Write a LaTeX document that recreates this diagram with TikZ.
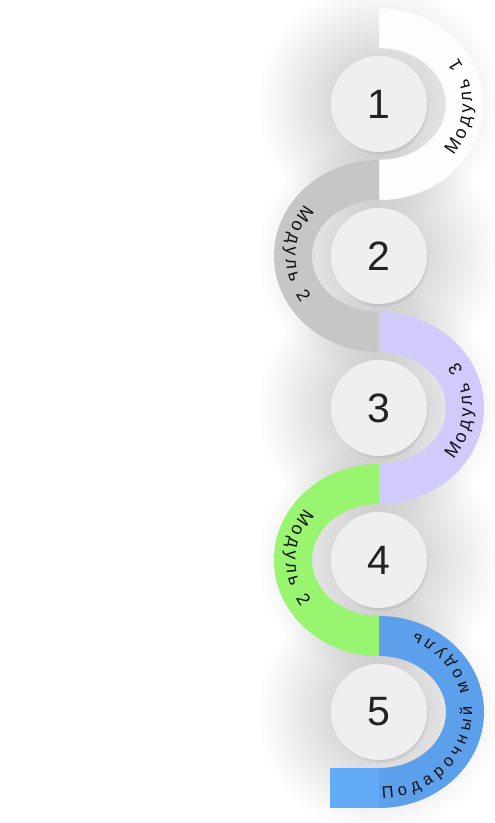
\documentclass[tikz,border=0pt]{standalone}
\usepackage{fontspec}
\setmainfont{Liberation Sans}
\newfontfamily\labfont{Liberation Sans}
\usetikzlibrary{calc,shadows,decorations.text,fadings}
\definecolor{ringgray}{HTML}{C6C6C6}
\definecolor{ringpurple}{HTML}{D1CBFB}
\definecolor{ringgreen}{HTML}{99F56F}
\definecolor{ringblue}{HTML}{5C9FEB}
\definecolor{ringblueL}{HTML}{63AAF7}
\definecolor{ringwhite}{HTML}{FDFDFD}
\definecolor{circfill}{HTML}{EFEFEF}
\definecolor{numtext}{HTML}{222222}
\definecolor{labtext}{HTML}{111111}
\begin{document}
\begin{tikzpicture}[x=1pt,y=1pt,
  numcirc/.style={circle, minimum size=96pt, inner sep=0pt, fill=circfill, text=numtext,
    font=\fontsize{41}{41}\selectfont,
    circular drop shadow={shadow xshift=1.5pt, shadow yshift=-3.5pt, shadow scale=1.0, opacity=0.4}},
  halolayer/.style={fill=black, opacity=0.007}]
\fill[white] (0,0) rectangle (495,823);
\useasboundingbox (0,0) rectangle (495,823);
\coordinate (c1) at (379,719);
\coordinate (c2) at (379,567);
\coordinate (c3) at (379,415);
\coordinate (c4) at (379,263);
\coordinate (c5) at (379,111);
% soft halos
\foreach \c in {c1,c2,c3,c4,c5}{
  \foreach \r in {52,56,...,120}{
    \path[halolayer] (\c) circle[radius=\r pt];
  }
}
% rings
\fill[ringwhite, draw=black!5, line width=0.5pt] ($(c1)+(0,96)$) arc[start angle=90,end angle=-90,x radius=105pt,y radius=96pt] -- ++(0,40) arc[start angle=-90,end angle=90,x radius=67pt,y radius=56pt] -- cycle;
\fill[ringgray] ($(c2)+(0,96)$) arc[start angle=90,end angle=270,x radius=105pt,y radius=96pt] -- ++(0,40) arc[start angle=270,end angle=90,x radius=67pt,y radius=56pt] -- cycle;
\fill[ringpurple] ($(c3)+(0,96)$) arc[start angle=90,end angle=-90,x radius=105pt,y radius=96pt] -- ++(0,40) arc[start angle=-90,end angle=90,x radius=67pt,y radius=56pt] -- cycle;
\fill[ringgreen] ($(c4)+(0,96)$) arc[start angle=90,end angle=270,x radius=105pt,y radius=96pt] -- ++(0,40) arc[start angle=270,end angle=90,x radius=67pt,y radius=56pt] -- cycle;
\fill[ringblueL] (330,15) rectangle (379,55);
\fill[ringblue] ($(c5)+(0,96)$) arc[start angle=90,end angle=-90,x radius=105pt,y radius=96pt] -- ++(0,40) arc[start angle=-90,end angle=90,x radius=67pt,y radius=56pt] -- cycle;
% circles
\node[numcirc] (n1) at (c1) {1};
\node[numcirc] (n2) at (c2) {2};
\node[numcirc] (n3) at (c3) {3};
\node[numcirc] (n4) at (c4) {4};
\node[numcirc] (n5) at (c5) {5};
% labels
\path[decorate, decoration={text along path, text align=fit to path,
  text={|\color{labtext}\labfont\fontsize{18}{18}\selectfont|Модуль 1}}]
  ($(c1)+(-37:93pt and 86pt)$) arc[start angle=-37, end angle=32, x radius=93pt, y radius=86pt];
\path[decorate, decoration={text along path, text align=fit to path,
  text={|\color{labtext}\labfont\fontsize{18}{18}\selectfont|Модуль 2}}]
  ($(c2)+(143:93pt and 86pt)$) arc[start angle=143, end angle=213, x radius=93pt, y radius=86pt];
\path[decorate, decoration={text along path, text align=fit to path,
  text={|\color{labtext}\labfont\fontsize{18}{18}\selectfont|Модуль 3}}]
  ($(c3)+(-37:93pt and 86pt)$) arc[start angle=-37, end angle=32, x radius=93pt, y radius=86pt];
\path[decorate, decoration={text along path, text align=fit to path,
  text={|\color{labtext}\labfont\fontsize{18}{18}\selectfont|Модуль 2}}]
  ($(c4)+(143:93pt and 86pt)$) arc[start angle=143, end angle=213, x radius=93pt, y radius=86pt];
\path[decorate, decoration={text along path, text align=fit to path,
  text={|\color{labtext}\labfont\fontsize{16.5}{16.5}\selectfont|Подарочный модуль}}]
  ($(c5)+(-88:93pt and 86pt)$) arc[start angle=-88, end angle=67, x radius=93pt, y radius=86pt];
\end{tikzpicture}
\end{document}
